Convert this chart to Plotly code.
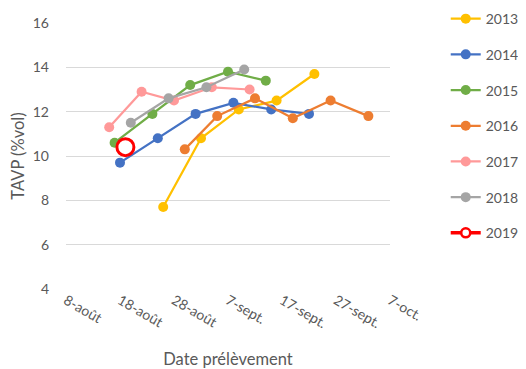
import plotly.graph_objects as go

years = ["2013", "2014", "2015", "2016", "2017", "2018", "2019"]

dates_2013 = ["2019-08-26", "2019-09-02", "2019-09-09", "2019-09-16", "2019-09-23"]
tavp_2013 = [7.7, 10.8, 12.1, 12.5, 13.7]

dates_2014 = ["2019-08-18", "2019-08-25", "2019-09-01", "2019-09-08", "2019-09-15", "2019-09-22"]
tavp_2014 = [9.7, 10.8, 11.9, 12.4, 12.1, 11.9]

dates_2015 = ["2019-08-17", "2019-08-24", "2019-08-31", "2019-09-07", "2019-09-14"]
tavp_2015 = [10.6, 11.9, 13.2, 13.8, 13.4]

dates_2016 = ["2019-08-30", "2019-09-05", "2019-09-12", "2019-09-19", "2019-09-26", "2019-10-03"]
tavp_2016 = [10.3, 11.8, 12.6, 11.7, 12.5, 11.8]

dates_2017 = ["2019-08-16", "2019-08-22", "2019-08-28", "2019-09-04", "2019-09-11"]
tavp_2017 = [11.3, 12.9, 12.5, 13.1, 13.0]

dates_2018 = ["2019-08-20", "2019-08-27", "2019-09-03", "2019-09-10"]
tavp_2018 = [11.5, 12.6, 13.1, 13.9]

dates_2019 = ["2019-08-19"]
tavp_2019 = [10.4]

tick_vals = ["2019-08-08", "2019-08-18", "2019-08-28", "2019-09-07", "2019-09-17", "2019-09-27", "2019-10-07"]
tick_text = ["8-août", "18-août", "28-août", "7-sept.", "17-sept.", "27-sept.", "7-oct."]

colors = ["#FFC000", "#4472C4", "#70AD47", "#ED7D31", "#FF9999", "#A5A5A5", "#FF0000"]

series = [
    (dates_2013, tavp_2013),
    (dates_2014, tavp_2014),
    (dates_2015, tavp_2015),
    (dates_2016, tavp_2016),
    (dates_2017, tavp_2017),
    (dates_2018, tavp_2018),
    (dates_2019, tavp_2019),
]

fig = go.Figure()
for i, (name, (d, v)) in enumerate(zip(years, series)):
    c = colors[i]
    if name == "2019":
        # data mark (large hollow circle), legend entry drawn by a data-less twin
        fig.add_trace(go.Scatter(
            x=d, y=v, name=name, mode="markers", showlegend=False,
            marker=dict(size=17, color="white", line=dict(color=c, width=3)),
            legendgroup=name,
        ))
        fig.add_trace(go.Scatter(
            x=[None], y=[None], name=name, mode="lines+markers",
            line=dict(color=c, width=3.5),
            marker=dict(size=9, color="white", line=dict(color=c, width=2.5)),
            legendgroup=name,
        ))
    else:
        fig.add_trace(go.Scatter(
            x=d, y=v, name=name, mode="lines+markers",
            line=dict(color=c, width=2.25),
            marker=dict(size=10, color=c, line=dict(width=0)),
            legendgroup=name,
        ))

font_family = "Lato, 'Open Sans', sans-serif"
# page body has an 8px margin: figure is sized/offset to fit the 526x369 window
fig.update_layout(
    width=518, height=361,
    margin=dict(l=58, r=136, t=15, b=79.5, autoexpand=False),
    paper_bgcolor="white", plot_bgcolor="white",
    font=dict(family=font_family, color="#595959", size=13),
    showlegend=True,
    legend=dict(x=1.172, y=1.075, xanchor="left", yanchor="top",
                tracegroupgap=14.5, font=dict(size=14, color="#595959"),
                bgcolor="rgba(0,0,0,0)", itemsizing="trace", maxheight=361),
    xaxis=dict(
        type="date", range=["2019-08-08", "2019-10-07"],
        tickvals=tick_vals, ticktext=tick_text, tickangle=30,
        showgrid=False, zeroline=False, showline=False,
        tickfont=dict(size=14, color="#595959"),
        title=dict(text="Date prélèvement", font=dict(size=16.5, color="#595959"), standoff=24),
    ),
    yaxis=dict(
        range=[4, 16], tickvals=[4, 6, 8, 10, 12, 14, 16],
        showgrid=True, gridcolor="#D9D9D9", gridwidth=1.3,
        zeroline=False, showline=False,
        tickfont=dict(size=14, color="#595959"),
        ticklabelstandoff=16,
        title=dict(text="TAVP (%vol)", font=dict(size=16.5, color="#595959"), standoff=6),
    ),
)

fig.write_html("out.html")
